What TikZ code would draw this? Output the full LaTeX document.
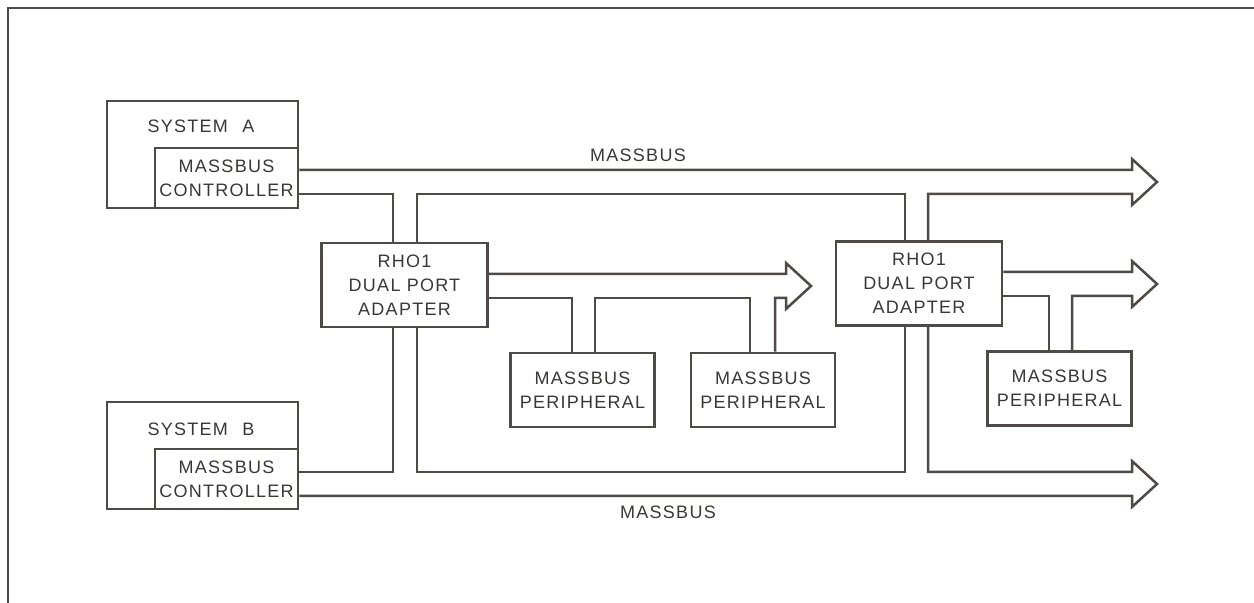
\documentclass[tikz,border=0pt]{standalone}
\usepackage{fontspec}
\setmainfont{Liberation Sans}[LetterSpace=7]
\usetikzlibrary{positioning}
\definecolor{cink}{HTML}{4E4A48}
\definecolor{ctext}{HTML}{3A3837}
\tikzset{
  every picture/.style={line width=1.25pt, color=cink, line join=miter},
  box/.style={draw=cink, fill=white, rectangle, inner sep=0pt, align=center, text=ctext,
    font=\fontsize{9}{12}\selectfont},
  sysbox/.style={box, minimum width=95.5pt, minimum height=53.5pt},
  ctrlbox/.style={box, minimum width=71.5pt, minimum height=30pt},
  adapter/.style={box, minimum width=83pt, minimum height=42pt},
  periph/.style={box, minimum width=72pt, minimum height=37pt},
  tag/.style={text=ctext, inner sep=0pt, font=\fontsize{9}{12}\selectfont},
}
% line pair ending in an open bus arrow head
\newcommand{\busend}[3]{-- (#1,#2) -- (#1,#2-11) -- (#1+25,{(#2+#3)/2}) -- (#1,#3+11) -- (#1,#3)}

\begin{document}
\begin{tikzpicture}[x=0.5pt, y=-0.5pt]
  \useasboundingbox (0,0) rectangle (1254,603);
  % frame
  \draw (8,603) -- (8,8) -- (1254,8);

  % systems
  \node[sysbox] (sysA) at (202.5,154.5) {};
  \node[ctrlbox] (ctrlA) at (226.5,178) {MASSBUS\\CONTROLLER};
  \node[tag] (sysAlbl) at (201,126) {SYSTEM\hspace{0.8em}A};
  \node[sysbox] (sysB) at (202.5,455.5) {};
  \node[ctrlbox] (ctrlB) at (226.5,479) {MASSBUS\\CONTROLLER};
  \node[tag] (sysBlbl) at (201,429) {SYSTEM\hspace{0.8em}B};

  % adapters and peripherals
  \node[adapter] (rhA) at (404.5,285) {RHO1\\DUAL PORT\\ADAPTER};
  \node[adapter] (rhB) at (919,283.5) {RHO1\\DUAL PORT\\ADAPTER};
  \node[periph] (perA) at (582.5,390) {MASSBUS\\PERIPHERAL};
  \node[periph] (perB) at (763,390) {MASSBUS\\PERIPHERAL};
  \node[periph] (perC) at (1059.5,388.5) {MASSBUS\\PERIPHERAL};

  \node[tag] (busAlbl) at (638,155) {MASSBUS};
  \node[tag] (busBlbl) at (668,512) {MASSBUS};

  % massbus from system A
  \draw (ctrlA.east |- 0,170) \busend{1132}{170}{194} -- (928,194) -- (rhB.north -| 928,0);
  \draw (ctrlA.east |- 0,194) -| (rhA.north -| 393,0);
  \draw (rhA.north -| 417,0) -- (417,194) -| (rhB.north -| 905,0);

  % massbus from system B
  \draw (rhB.south -| 928,0) -- (928,472) \busend{1132}{472}{496} -- (ctrlB.east |- 0,496);
  \draw (ctrlB.east |- 0,472) -| (rhA.south -| 393,0);
  \draw (rhA.south -| 417,0) -- (417,472) -| (rhB.south -| 905,0);

  % first adapter to its peripherals
  \draw (rhA.east |- 0,274) \busend{786}{274}{298} -- (775,298) -- (perB.north -| 775,0);
  \draw (rhA.east |- 0,298) -| (perA.north -| 572,0);
  \draw (perA.north -| 595,0) |- (750,298) -- (perB.north -| 750,0);

  % second adapter to its peripheral
  \draw (rhB.east |- 0,272) \busend{1132}{272}{296} -- (1072,296) -- (perC.north -| 1072,0);
  \draw (rhB.east |- 0,296) -| (perC.north -| 1049,0);
\end{tikzpicture}
\end{document}
